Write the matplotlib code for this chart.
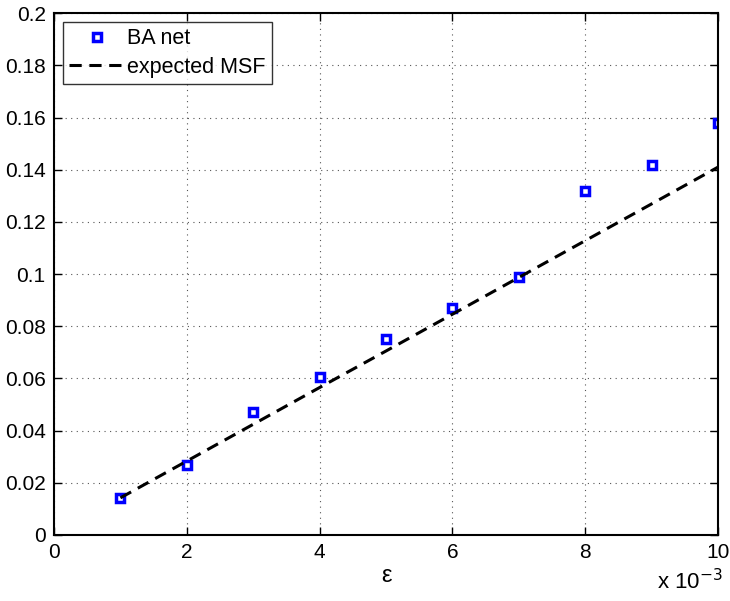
import numpy as np
import matplotlib
matplotlib.use("Agg")
import matplotlib.pyplot as plt
from matplotlib.ticker import FuncFormatter

plt.rcParams['font.family'] = ['Liberation Sans', 'DejaVu Sans']

# data (epsilon in units of 1e-3)
eps = np.array([1, 2, 3, 4, 5, 6, 7, 8, 9, 10]) * 1e-3
ba_net = [0.0141, 0.0267, 0.0470, 0.0604, 0.0750, 0.0871, 0.0990, 0.1318, 0.1418, 0.1580]
msf = [0.0142, 0.0283, 0.0424, 0.0565, 0.0705, 0.0846, 0.0987, 0.1128, 0.1269, 0.1410]

fig = plt.figure(figsize=(7.3, 6.01), dpi=100)
ax = fig.add_axes([0.074, 0.11, 0.9096, 0.868])

ax.plot(eps, ba_net, 's', color='blue', mfc='white', mec='blue', ms=5.4, mew=2.5, label='BA net')
ax.plot(eps, msf, '--', color='black', lw=2.2, dashes=(4, 2.5), label='expected MSF')

ax.set_xlim(0, 0.01)
ax.set_ylim(0, 0.2)
ax.set_xticks(np.arange(0, 0.0101, 0.002))
ax.set_yticks(np.arange(0, 0.2001, 0.02))
ax.xaxis.set_major_formatter(FuncFormatter(lambda v, p: '%g' % round(v * 1e3, 6)))
ax.yaxis.set_major_formatter(FuncFormatter(lambda v, p: '%g' % round(v, 6)))
ax.tick_params(direction='in', top=True, right=True, labelsize=15, width=1, length=6, pad=6)
ax.grid(True, linestyle=(0, (1, 4)), color='#555555', lw=0.8)
for s in ax.spines.values():
    s.set_linewidth(1.5)

ax.set_xlabel('ε', fontsize=17, labelpad=2)
fig.text(0.99, 0.012, 'x 10$^{-3}$', ha='right', va='bottom', fontsize=16)

leg = ax.legend(loc='upper left', fontsize=15.5, frameon=True, fancybox=False, edgecolor='black',
                borderpad=0.3, handlelength=2.6, handletextpad=0.1, borderaxespad=0.4, labelspacing=0.35)
leg.get_frame().set_linewidth(1.0)

fig.savefig('out.png', dpi=100)
